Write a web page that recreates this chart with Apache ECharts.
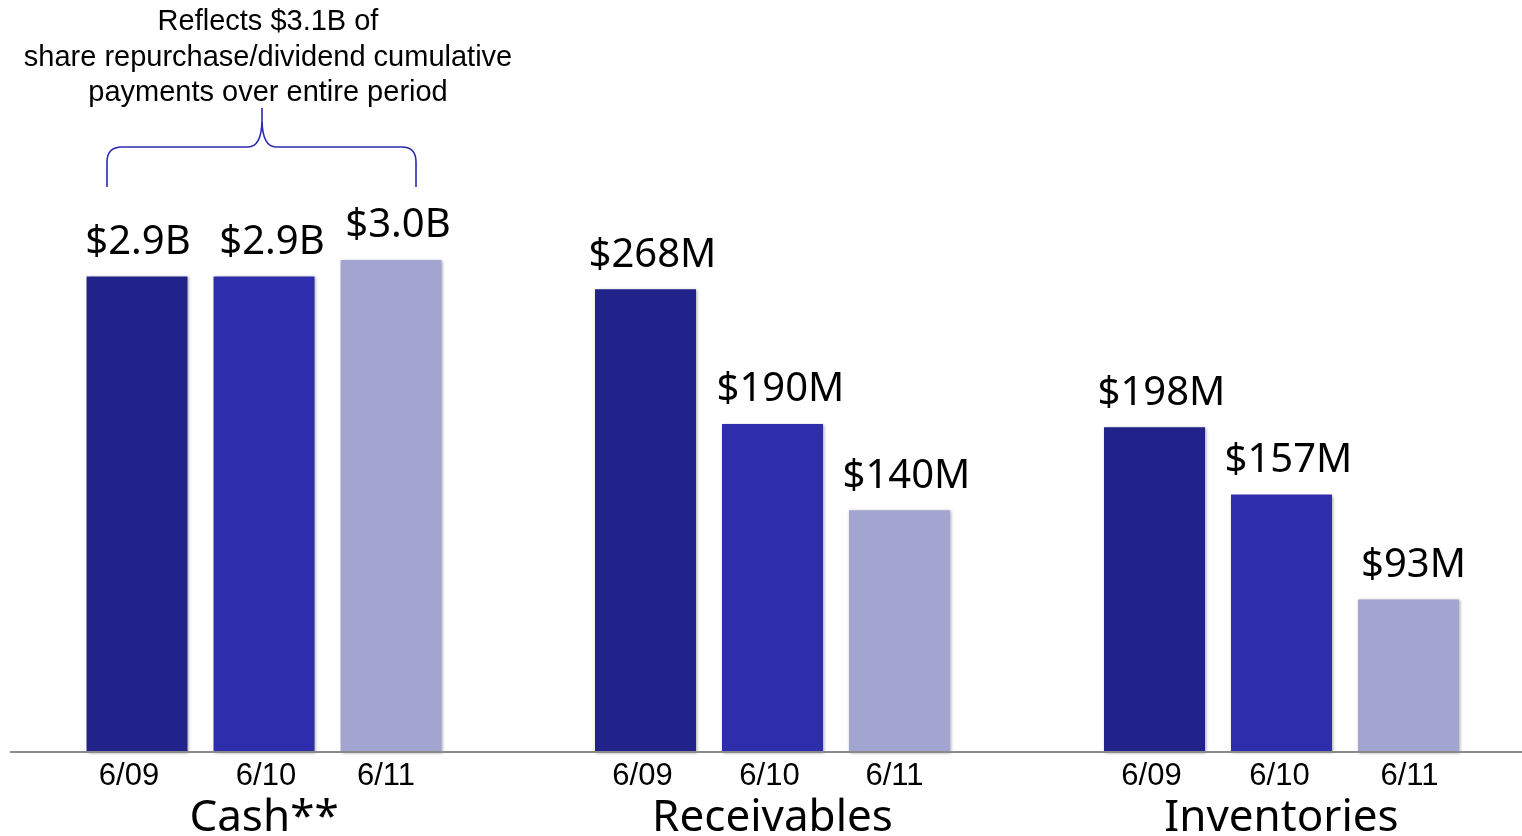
<!DOCTYPE html>
<html>
<head>
<meta charset="utf-8">
<script src="https://cdn.jsdelivr.net/npm/echarts@6/dist/echarts.min.js"></script>
<style>
  html, body { margin: 0; padding: 0; background: #fff; }
  #chart { width: 1522px; height: 836px; }
</style>
</head>
<body>
<div id="chart"></div>
<script>
// data
const periods = ['6/09', '6/10', '6/11'];
const groupNames = ['Cash**', 'Receivables', 'Inventories'];
const cashValues = [2.9, 2.9, 3.0];          // $B
const receivableValues = [268, 190, 140];    // $M
const inventoryValues = [198, 157, 93];      // $M
const noteLines = [
  'Reflects $3.1B of',
  'share repurchase/dividend cumulative',
  'payments over entire period'
];

const barColors = ['#22228B', '#2E2EAD', '#A3A5D1'];
const labelFont = '"Noto Sans", "Open Sans", sans-serif';
const axisFont = '"Liberation Sans", Arial, sans-serif';

const chart = echarts.init(document.getElementById('chart'));

// one grid per group, each with its own scale
const groups = [
  { values: cashValues, max: 4, left: 73.5, offsets: [1, 8, 7], shifts: [-8, 2, -5], fmt: v => '$' + v.toFixed(1) + 'B' },
  { values: receivableValues, max: 380, left: 582, offsets: [7, 8, 7], shifts: [-3, -3, -5], fmt: v => '$' + v + 'M' },
  { values: inventoryValues, max: 400, left: 1091, offsets: [7, 7, 5], shifts: [-3, -2, 1], fmt: v => '$' + v + 'M' }
];

const grids = groups.map(g => ({
  left: g.left, width: 381, top: 96, bottom: 84,
  containLabel: false, outerBoundsMode: 'none'
}));

const xAxes = groups.map((g, i) => ({
  type: 'category',
  gridIndex: i,
  data: periods.map((p, j) => {
    const s = g.shifts[j];
    return { value: p, textStyle: { padding: [0, s < 0 ? -2 * s : 0, 0, s > 0 ? 2 * s : 0] } };
  }),
  axisLine: { show: false },
  axisTick: { show: false },
  axisLabel: { fontSize: 31, color: '#000', fontFamily: axisFont, margin: 9 },
  name: groupNames[i],
  nameLocation: 'middle',
  nameGap: 44,
  nameTextStyle: { fontSize: 44, color: '#000', fontFamily: labelFont }
}));

const yAxes = groups.map((g, i) => ({
  type: 'value',
  gridIndex: i,
  min: 0,
  max: g.max,
  show: false
}));

const series = groups.map((g, i) => ({
  type: 'bar',
  xAxisIndex: i,
  yAxisIndex: i,
  barWidth: 101,
  data: g.values.map((v, j) => ({
    value: v,
    itemStyle: { color: barColors[j] },
    label: { offset: [g.offsets[j], 0] }
  })),
  itemStyle: {
    shadowBlur: 3,
    shadowColor: 'rgba(0,0,0,0.35)',
    shadowOffsetX: 1,
    shadowOffsetY: 1
  },
  label: {
    show: true,
    position: 'top',
    distance: 14,
    fontSize: 40,
    color: '#000',
    fontFamily: labelFont,
    formatter: p => g.fmt(p.value)
  },
  silent: true,
  animation: false
}));

// brace over the cash bars, built from lines and curves
const braceStyle = { stroke: '#2A2AB0', lineWidth: 1.6, fill: null };
const seg = (x1, y1, x2, y2) => ({ type: 'line', shape: { x1, y1, x2, y2 }, style: braceStyle });
const curve = (x1, y1, cpx1, cpy1, x2, y2) => ({
  type: 'bezierCurve', shape: { x1, y1, cpx1, cpy1, x2, y2 }, style: braceStyle
});
const brace = [
  seg(107, 187, 107, 162),
  curve(107, 162, 107, 147, 122, 147),
  seg(122, 147, 248, 147),
  curve(248, 147, 261, 147, 262, 122),
  seg(262, 122, 262, 108),
  curve(262, 122, 263, 147, 276, 147),
  seg(276, 147, 402, 147),
  curve(402, 147, 416, 147, 416, 162),
  seg(416, 162, 416, 187)
];

const option = {
  backgroundColor: '#fff',
  animation: false,
  grid: grids,
  xAxis: xAxes,
  yAxis: yAxes,
  series: series,
  graphic: [
    // baseline across the whole page
    {
      type: 'line',
      shape: { x1: 10, y1: 752, x2: 1522, y2: 752 },
      style: { stroke: '#8a8a8a', lineWidth: 2 },
      z: 10
    },
    ...brace,
    ...noteLines.map((t, i) => ({
      type: 'text',
      x: 268,
      y: 22 + i * 35.5,
      style: {
        text: t,
        font: '29px ' + axisFont,
        fill: '#000',
        textAlign: 'center',
        textVerticalAlign: 'middle'
      }
    }))
  ]
};

chart.setOption(option);
</script>
</body>
</html>
